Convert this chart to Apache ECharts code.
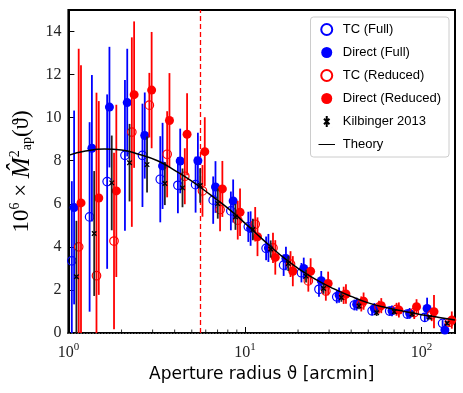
<!DOCTYPE html>
<html>
<head>
<meta charset="utf-8">
<script src="https://cdn.jsdelivr.net/npm/echarts@6/dist/echarts.min.js"></script>
<style>html,body{margin:0;padding:0;background:#fff}#c{width:463px;height:393px}</style>
</head>
<body>
<div id="c"></div>
<script>
// ---- data ----
const thetaBins = [1.11,1.40,1.76,2.22,2.79,3.52,4.43,5.58,7.02,8.84,11.1,14.0,17.6,22.2,27.9,35.2,44.3,55.8,70.2,88.4,111,140];

const tcFull      = [3.35,5.39,7.03,8.25,8.25,7.14,6.86,6.89,6.17,5.67,4.93,3.93,3.15,2.80,2.03,1.68,1.30,1.03,1.02,0.88,0.73,0.45];
const tcFullErr   = [3.7,4.4,4.05,3.5,2.4,2.0,1.3,1.3,1.1,0.9,0.7,0.55,0.5,0.45,0.35,0.3,0.25,0.2,0.2,0.2,0.2,0.15];

const directFull    = [5.83,8.58,10.49,10.7,9.17,7.76,7.99,8.00,6.78,6.13,4.85,3.95,3.46,3.00,2.43,1.76,1.34,1.14,1.03,0.91,1.14,0.14];
const directFullErr = [4.5,3.4,2.8,2.5,2.0,2.0,1.5,1.3,1.2,1.0,0.8,0.65,0.55,0.5,0.45,0.35,0.3,0.25,0.25,0.25,0.5,0.3];

const tcReduced    = [4.00,2.66,4.27,9.33,10.58,8.30,7.28,6.60,5.73,5.24,5.05,3.95,3.20,2.42,1.95,1.75,1.35,1.20,1.10,0.95,0.85,0.50];
const tcReducedErr = [9.2,8.5,4.1,4.4,1.5,2.0,1.3,1.2,1.0,0.9,0.8,0.7,0.6,0.5,0.45,0.4,0.35,0.3,0.3,0.3,0.3,0.2];

const directReduced    = [6.04,6.27,6.60,11.07,11.28,9.87,9.23,8.42,6.69,5.61,4.47,3.51,2.87,2.87,2.30,1.81,1.48,1.27,1.07,1.22,0.99,0.60];
const directReducedErr = [6.4,4.5,4.0,3.4,2.7,2.2,1.9,1.6,1.3,1.1,0.9,0.8,0.7,0.6,0.55,0.45,0.4,0.35,0.35,0.35,0.77,0.4];

const kilbinger    = [2.61,4.62,6.97,7.91,7.82,6.94,6.74,6.85,6.01,5.39,4.81,3.90,3.23,2.64,2.07,1.65,1.25,0.94,0.99,0.88,0.73,0.45];
const kilbingerErr = [2.6,2.9,2.2,1.8,1.3,1.0,0.9,0.8,0.7,0.6,0.5,0.4,0.35,0.3,0.25,0.2,0.15,0.15,0.12,0.12,0.1,0.1];

const theoryTheta = [1,1.25,1.6,2,2.5,3.2,4,5,6.3,8,10,12.6,16,20,25,32,40,50,63,80,100,126,155];
const theoryVal   = [8.25,8.45,8.55,8.5,8.3,8.0,7.55,7.05,6.45,5.8,5.1,4.35,3.6,3.0,2.5,2.05,1.7,1.4,1.18,1.0,0.85,0.72,0.6];

const cutTheta = 5.57;
const yTicks = [0,2,4,6,8,10,12,14];
const xTickExps = [0,1,2];
const minorTicks = [2,3,4,5,6,7,8,9,20,30,40,50,60,70,80,90];

// ---- helpers ----
const X_MIN = 1, X_MAX = 155, Y_MIN = 0, Y_MAX = 15;
const BLUE = '#0000ff', RED = '#ff0000';
function shift(k){ return Math.pow(10, 0.013*k); }
function pts(vals, k){ return vals.map((v,i)=>[thetaBins[i]*shift(k), v]); }
function errs(vals, e, k){ return vals.map((v,i)=>[thetaBins[i]*shift(k), v-e[i], v+e[i]]); }

function errRender(color, w){
  return function(params, api){
    const cs = params.coordSys;
    const p1 = api.coord([api.value(0), api.value(1)]);
    const p2 = api.coord([api.value(0), api.value(2)]);
    const top = cs.y, bot = cs.y + cs.height;
    const y1 = Math.min(Math.max(p1[1], top), bot);
    const y2 = Math.min(Math.max(p2[1], top), bot);
    if (p1[0] < cs.x || p1[0] > cs.x + cs.width) return;
    return {type:'line', shape:{x1:p1[0], y1:y1, x2:p1[0], y2:y2}, style:{stroke:color, lineWidth:w}};
  };
}
function errSeries(vals, e, k, color, z){
  return {type:'custom', renderItem: errRender(color, 1.8), data: errs(vals, e, k), z: z, silent:true, encode:{x:0, y:[1,2]}};
}

const xPath = 'path://M0,0L10,10M10,0L0,10';
const xLegendPath = 'path://M0,0L0.01,0.01M2.5,2.5L7.5,7.5M7.5,2.5L2.5,7.5M5,0L5,10M9.99,9.99L10,10';
// horizontal bar with invisible specks that widen the bounding box vertically
const linePath = 'path://M0,0L0.01,0L0.01,0.01ZM0,9.2L30,9.2L30,10.8L0,10.8ZM0,19.99L0.01,19.99L0.01,20Z';

const option = {
  animation: false,
  grid: {left:67, right:8, top:10, bottom:60, show:true, borderColor:'#000', borderWidth:2, backgroundColor:'rgba(0,0,0,0)'},
  legend: {
    right: 14, top: 17, orient:'vertical',
    backgroundColor:'#fff', borderColor:'#ccc', borderWidth:1, borderRadius:3,
    padding:[6,8,6,8], itemGap:10, itemWidth:22, itemHeight:11,
    textStyle:{fontFamily:'Liberation Sans', fontSize:13, color:'#000'},
    data:[
      {name:'TC (Full)'},
      {name:'Direct (Full)'},
      {name:'TC (Reduced)'},
      {name:'Direct (Reduced)'},
      {name:'Kilbinger 2013', icon: xLegendPath},
      {name:'Theory', icon: linePath}
    ]
  },
  xAxis: {
    type:'log', logBase:10, min:X_MIN, max:X_MAX,
    axisLine:{show:true, lineStyle:{color:'#000', width:2}},
    axisTick:{show:true, inside:true, length:6, lineStyle:{color:'#000', width:1}},
    splitLine:{show:false},
    axisLabel:{
      margin:9,
      formatter: function(v){
        const e = Math.round(Math.log10(v));
        if (Math.abs(Math.pow(10,e)-v) > 1e-6 || xTickExps.indexOf(e) < 0) return '';
        return '{b|10}{s|' + e + '}';
      },
      rich:{
        b:{fontFamily:'Liberation Serif', fontSize:16, color:'#222'},
        s:{fontFamily:'Liberation Serif', fontSize:11, color:'#222', padding:[0,0,10,0]}
      }
    },
    name:'Aperture radius ϑ [arcmin]', nameLocation:'middle', nameGap:33,
    nameTextStyle:{fontFamily:'DejaVu Sans', fontSize:17, color:'#000'}
  },
  yAxis: {
    type:'value', min:Y_MIN, max:Y_MAX, interval:2,
    axisLine:{show:true, lineStyle:{color:'#000', width:2}},
    axisTick:{show:true, inside:true, length:6, lineStyle:{color:'#000', width:1}},
    splitLine:{show:false},
    axisLabel:{
      margin:7, showMaxLabel:false,
      fontFamily:'Liberation Serif', fontSize:16, color:'#222',
      formatter: v => (yTicks.indexOf(v) >= 0 ? String(v) : '')
    },
    name:'{n|10}{sp|6}{n| × }{m|M̂}{sp|2}{sb|ap}{n|(ϑ)}', nameLocation:'middle', nameGap:32, nameRotate:90,
    nameTextStyle:{
      rich:{
        n:{fontFamily:'Liberation Serif', fontSize:23, color:'#000'},
        m:{fontFamily:'Liberation Serif', fontStyle:'italic', fontSize:25, color:'#000'},
        sp:{fontFamily:'Liberation Serif', fontSize:14, color:'#000', padding:[0,0,14,0]},
        sb:{fontFamily:'Liberation Serif', fontSize:14, color:'#000', padding:[10,0,0,0]}
      }
    }
  },
  series: [
    {type:'line', data:[], silent:true, z:1,
      markLine:{silent:true, symbol:'none', label:{show:false}, animation:false,
        data:[{yAxis:0, lineStyle:{color:'#666', type:[1.5,1.5], width:1}},
              {xAxis:cutTheta, lineStyle:{color:RED, type:[5,3], width:1.3}}]}},
    {type:'custom', silent:true, z:5, data: minorTicks.filter(v=>v<X_MAX).map(v=>[v,0]),
      renderItem: function(params, api){
        const p = api.coord([api.value(0), 0]);
        return {type:'line', shape:{x1:p[0], y1:p[1], x2:p[0], y2:p[1]-3.5}, style:{stroke:'#000', lineWidth:0.8}};
      }},
    errSeries(tcFull, tcFullErr, -2, BLUE, 2),
    {name:'TC (Full)', type:'scatter', data: pts(tcFull,-2), symbol:'circle', symbolSize:8.5, z:3,
      itemStyle:{color:'rgba(255,255,255,0)', borderColor:BLUE, borderWidth:1.2, opacity:1}},
    errSeries(directFull, directFullErr, -1, BLUE, 4),
    {name:'Direct (Full)', type:'scatter', data: pts(directFull,-1), symbol:'circle', symbolSize:9, z:5,
      itemStyle:{color:BLUE, opacity:1}},
    errSeries(tcReduced, tcReducedErr, 1, RED, 6),
    {name:'TC (Reduced)', type:'scatter', data: pts(tcReduced,1), symbol:'circle', symbolSize:8.5, z:7,
      itemStyle:{color:'rgba(255,255,255,0)', borderColor:RED, borderWidth:1.2, opacity:1}},
    errSeries(directReduced, directReducedErr, 2, RED, 8),
    {name:'Direct (Reduced)', type:'scatter', data: pts(directReduced,2), symbol:'circle', symbolSize:9, z:9,
      itemStyle:{color:RED, opacity:1}},
    errSeries(kilbinger, kilbingerErr, 0, '#222', 10),
    {name:'Kilbinger 2013', type:'scatter', data: pts(kilbinger,0), symbol:xPath, symbolSize:4.5, z:11,
      itemStyle:{color:'#000', borderColor:'#000', borderWidth:1.3, opacity:1}},
    {name:'Theory', type:'line', data: theoryTheta.map((t,i)=>[t, theoryVal[i]]), smooth:true, showSymbol:false, symbol:'none',
      lineStyle:{color:'#000', width:1.5}, itemStyle:{color:'#000'}, z:12}
  ]
};
const chart = echarts.init(document.getElementById('c'), null, {renderer:'canvas'});
chart.setOption(option);
</script>
</body>
</html>
